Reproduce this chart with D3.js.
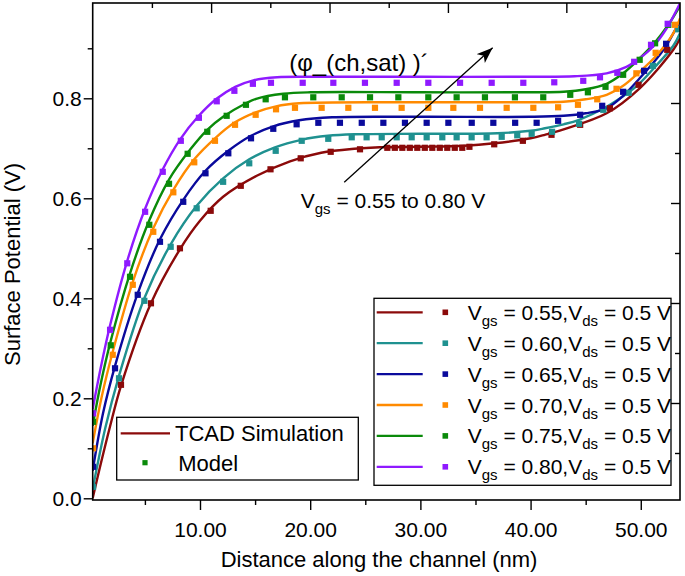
<!DOCTYPE html>
<html><head><meta charset="utf-8">
<script src="https://cdn.jsdelivr.net/npm/d3@7"></script>
<style>
body{margin:0;background:#fff}
svg{display:block}
text{font-family:"Liberation Sans",Arial,Helvetica,sans-serif;fill:#000}
</style>
</head><body>
<svg id="chart" width="685" height="576"></svg>
<script>
// ---------------- DATA ----------------
const vgsLabels = ["0.55","0.60","0.65","0.70","0.75","0.80"];
const seriesColors = ["#8b0a0a","#1f9190","#0a0a9c","#ff8a00","#0a8a0a","#8f1aff"];

const xMajorTicks = [10,20,30,40,50];
const xMinorTicks = [5,15,25,35,45];
const yMajorTicks = [0,0.2,0.4,0.6,0.8];
const yMinorTicks = [0.1,0.3,0.5,0.7,0.9];

// TCAD simulation curves [x (nm), potential (V)]
const tcad055 = [[0.26,0.0],[0.93,0.063],[1.83,0.143],[2.83,0.225],[5.55,0.39],[8.18,0.498],[10.0,0.555],[12.1,0.603],[15.15,0.645],[18.17,0.674],[21,0.691],[24,0.699],[26.3,0.702],[30,0.703],[34,0.705],[36.7,0.71],[40,0.72],[41.3,0.727],[43,0.738],[46.9,0.77],[49.9,0.82],[52.95,0.897],[53.56,0.92]];
const tcad060 = [[0.26,0.018],[1.4,0.14],[2.65,0.245],[4.95,0.40],[7.34,0.508],[9.7,0.585],[12.1,0.64],[14.47,0.678],[16.8,0.702],[19.2,0.717],[21.6,0.725],[24,0.728],[30,0.729],[37,0.73],[40,0.735],[41.3,0.74],[43,0.748],[44.4,0.757],[46.9,0.783],[48.9,0.812],[49.9,0.83],[51.1,0.858],[52.95,0.905],[53.56,0.93]];
const tcad065 = [[0.26,0.055],[1.2,0.17],[2.29,0.265],[4.35,0.41],[6.37,0.518],[8.48,0.597],[10.5,0.655],[12.57,0.695],[14.63,0.725],[16.65,0.744],[19,0.756],[22,0.762],[30,0.763],[40,0.763],[43,0.765],[45,0.77],[46.9,0.78],[48.4,0.805],[49.9,0.84],[51.4,0.878],[52.3,0.905],[53.56,0.955]];
const tcad070 = [[0.26,0.11],[1.1,0.205],[2.08,0.293],[3.9,0.433],[5.76,0.54],[7.58,0.617],[9.48,0.678],[11.36,0.72],[13.18,0.752],[15.05,0.772],[16.9,0.784],[19,0.79],[30,0.792],[40,0.792],[43,0.793],[45,0.798],[46.9,0.807],[48.4,0.825],[49.9,0.853],[51.4,0.885],[52.95,0.93],[53.56,0.96]];
const tcad075 = [[0.26,0.145],[1.0,0.23],[1.9,0.315],[3.65,0.45],[5.4,0.556],[7.2,0.638],[9.09,0.697],[10.66,0.737],[12.1,0.763],[14.17,0.79],[15.1,0.799],[17.56,0.809],[20,0.812],[30,0.812],[40,0.812],[43,0.813],[45,0.818],[46.9,0.829],[48.4,0.85],[49.9,0.88],[51.3,0.912],[52.5,0.947],[53.56,0.985]];
const tcad080 = [[0.26,0.178],[1.0,0.262],[1.83,0.345],[3.4,0.475],[5.0,0.578],[6.6,0.657],[8.2,0.718],[9.85,0.764],[11.5,0.799],[13.2,0.823],[14.84,0.836],[17,0.842],[20,0.843],[30,0.843],[40,0.843],[44,0.844],[46.9,0.85],[48.7,0.863],[49.9,0.88],[51.1,0.903],[52.35,0.94],[53.56,0.99]];

// Model points [x (nm), potential (V)]
const model055 = [[2.83,0.227],[5.55,0.39],[8.18,0.5],[10.97,0.575],[13.7,0.625],[16.4,0.658],[19.14,0.68],[21.86,0.693],[24.52,0.698],[27.0,0.701],[27.68,0.701],[28.36,0.701],[29.04,0.701],[29.72,0.701],[30.4,0.701],[31.08,0.701],[31.76,0.701],[32.44,0.701],[33.12,0.701],[33.8,0.701],[34.45,0.703],[36.7,0.708],[39.3,0.715],[41.9,0.727],[44.5,0.747],[47.2,0.78],[49.8,0.827],[52.4,0.897]];
const model060 = [[0.3,0.023],[2.65,0.24],[4.95,0.395],[7.34,0.503],[9.7,0.58],[12.1,0.633],[14.47,0.67],[16.87,0.695],[19.23,0.715],[21.64,0.719],[23.77,0.722],[25.12,0.722],[26.49,0.722],[27.85,0.722],[29.21,0.722],[30.57,0.722],[31.99,0.722],[33.29,0.722],[34.65,0.722],[36.01,0.722],[37.38,0.723],[38.79,0.726],[40.1,0.729],[41.95,0.733],[44.4,0.749],[46.6,0.777],[48.9,0.811],[51.1,0.865],[53.4,0.938]];
const model065 = [[0.3,0.063],[2.29,0.26],[4.35,0.407],[6.37,0.513],[8.48,0.593],[10.5,0.65],[12.57,0.69],[14.63,0.72],[16.65,0.739],[18.77,0.748],[20.74,0.751],[22.7,0.751],[24.68,0.751],[26.64,0.751],[28.6,0.751],[30.57,0.751],[32.54,0.751],[34.66,0.751],[36.62,0.751],[38.6,0.751],[40.55,0.751],[42.5,0.755],[44.5,0.767],[46.5,0.785],[48.4,0.813],[50.3,0.855],[52.3,0.909]];
const model070 = [[0.3,0.10],[2.08,0.287],[3.9,0.427],[5.76,0.533],[7.58,0.612],[9.48,0.672],[11.36,0.715],[13.18,0.747],[15.05,0.767],[16.9,0.778],[18.62,0.781],[21.04,0.781],[23.46,0.781],[25.88,0.781],[28.3,0.781],[30.72,0.781],[32.99,0.781],[35.41,0.781],[37.83,0.781],[40.25,0.781],[42.5,0.782],[44.3,0.787],[46.05,0.798],[47.8,0.819],[49.6,0.85],[51.35,0.891],[53.1,0.947]];
const model075 = [[0.3,0.153],[1.9,0.306],[3.65,0.443],[5.4,0.547],[7.19,0.629],[8.88,0.689],[10.66,0.733],[12.42,0.765],[14.17,0.787],[15.96,0.798],[17.71,0.802],[20.28,0.802],[22.86,0.802],[25.43,0.802],[28.0,0.802],[30.72,0.802],[33.29,0.802],[35.86,0.802],[38.58,0.802],[41.15,0.802],[43.6,0.807],[45.2,0.812],[46.8,0.823],[48.4,0.847],[49.9,0.877],[51.3,0.91],[52.5,0.947]];
const model080 = [[0.3,0.17],[1.84,0.337],[3.4,0.47],[5.02,0.573],[6.62,0.653],[8.26,0.715],[9.9,0.761],[11.52,0.794],[13.12,0.815],[14.8,0.829],[16.44,0.831],[19.32,0.831],[22.1,0.831],[24.97,0.831],[27.85,0.831],[30.72,0.831],[33.6,0.831],[36.47,0.831],[39.34,0.831],[42.15,0.832],[44.78,0.835],[46.3,0.842],[47.87,0.851],[49.4,0.873],[50.93,0.907],[52.44,0.949]];

const tcadSeries = [tcad055,tcad060,tcad065,tcad070,tcad075,tcad080];
const modelSeries = [model055,model060,model065,model070,model075,model080];

// annotations (data coordinates)
const arrowFrom = [23.09,0.632];
const arrowTo = [36.56,0.901];
const phiLabelPos = [18.1,0.855];
const vgsRangePos = [19.14,0.58];

// ---------------- CHART ----------------
const L = 92.7, T = 3, R = 680, B = 500;
const svg = d3.select("#chart");

const x = d3.scaleLinear().domain([0.263, 53.56]).range([L, R]);
const y = d3.scaleLinear().domain([-0.0034, 0.9906]).range([B, T]);
// mirror axes (top/right) in the reference use their own tick spacing
const xTop = d3.scaleLinear().domain([0, 9.92]).range([L, R]);
const yRight = d3.scaleLinear().domain([0.06, 10]).range([B, T]);

svg.append("defs").append("clipPath").attr("id","plotclip")
  .append("rect").attr("x",L).attr("y",T).attr("width",R-L).attr("height",B-T);

const plot = svg.append("g").attr("clip-path","url(#plotclip)");

const line = d3.line().x(d=>x(d[0])).y(d=>y(d[1])).curve(d3.curveCatmullRom.alpha(0.5));

tcadSeries.forEach((s,i)=>{
  plot.append("path").datum(s).attr("d",line)
    .attr("fill","none").attr("stroke",seriesColors[i]).attr("stroke-width",2.4);
});
const ms = 6.2;
modelSeries.forEach((s,i)=>{
  plot.append("g").selectAll("rect").data(s).join("rect")
    .attr("x",d=>x(d[0])-ms/2).attr("y",d=>y(d[1])-ms/2)
    .attr("width",ms).attr("height",ms).attr("fill",seriesColors[i]);
});

// axes
const fs = 21;
function styleAxis(g){ g.select(".domain").remove(); g.selectAll("line").attr("stroke","#000").attr("stroke-width",1.4); }

const gxMaj = svg.append("g").attr("transform",`translate(0,${B})`)
  .call(d3.axisBottom(x).tickValues(xMajorTicks).tickSize(10).tickFormat(d3.format(".2f")));
styleAxis(gxMaj);
gxMaj.selectAll("text").attr("y",36.7).attr("dy",0).style("font-size",fs+"px").attr("fill","#000");
const gxMin = svg.append("g").attr("transform",`translate(0,${B})`)
  .call(d3.axisBottom(x).tickValues(xMinorTicks).tickSize(5).tickFormat(""));
styleAxis(gxMin);

const gyMaj = svg.append("g").attr("transform",`translate(${L},0)`)
  .call(d3.axisLeft(y).tickValues(yMajorTicks).tickSize(9).tickPadding(2).tickFormat(d3.format(".1f")));
styleAxis(gyMaj);
gyMaj.selectAll("text").attr("dy","0.36em").style("font-size",fs+"px").attr("fill","#000");
const gyMin = svg.append("g").attr("transform",`translate(${L},0)`)
  .call(d3.axisLeft(y).tickValues(yMinorTicks).tickSize(5).tickFormat(""));
styleAxis(gyMin);

// top mirror ticks (inward)
const topMaj = svg.append("g").attr("transform",`translate(0,${T})`)
  .call(d3.axisBottom(xTop).tickValues([2,4,6,8]).tickSize(10).tickFormat(""));
styleAxis(topMaj);
const topMin = svg.append("g").attr("transform",`translate(0,${T})`)
  .call(d3.axisBottom(xTop).tickValues([1,3,5,7,9]).tickSize(5).tickFormat(""));
styleAxis(topMin);
// right mirror ticks (inward)
const rMaj = svg.append("g").attr("transform",`translate(${R},0)`)
  .call(d3.axisLeft(yRight).tickValues([2,4,6,8]).tickSize(9).tickFormat(""));
styleAxis(rMaj);
const rMin = svg.append("g").attr("transform",`translate(${R},0)`)
  .call(d3.axisLeft(yRight).tickValues([1,3,5,7,9]).tickSize(5).tickFormat(""));
styleAxis(rMin);

// frame
svg.append("rect").attr("x",L).attr("y",T).attr("width",R-L).attr("height",B-T)
  .attr("fill","none").attr("stroke","#000").attr("stroke-width",1.6);

// axis titles
svg.append("text").attr("x",379).attr("y",567).attr("text-anchor","middle")
  .style("font-size","22px").text("Distance along the channel (nm)");
svg.append("text").attr("transform","translate(20,264.5) rotate(-90)").attr("text-anchor","middle")
  .style("font-size","22px").text("Surface Potential (V)");

// annotations
const defs = svg.select("defs");
defs.append("marker").attr("id","arrowhead").attr("markerUnits","userSpaceOnUse")
  .attr("markerWidth",18).attr("markerHeight",14).attr("refX",16).attr("refY",6)
  .attr("orient","auto")
  .append("path").attr("d","M0,0 L16,6 L0,12 L4,6 Z").attr("fill","#000");
svg.append("line")
  .attr("x1",x(arrowFrom[0])).attr("y1",y(arrowFrom[1]))
  .attr("x2",x(arrowTo[0])).attr("y2",y(arrowTo[1]))
  .attr("stroke","#000").attr("stroke-width",1.3).attr("marker-end","url(#arrowhead)");

svg.append("text").attr("x",x(phiLabelPos[0])).attr("y",y(phiLabelPos[1]))
  .style("font-size","24px").text("(φ_(ch,sat) )´");

const vr = svg.append("text").attr("x",x(vgsRangePos[0])).attr("y",y(vgsRangePos[1])).style("font-size",fs+"px");
vr.append("tspan").text("V");
vr.append("tspan").attr("dy",6).style("font-size","15px").text("gs");
vr.append("tspan").attr("dy",-6).text(" = 0.55 to 0.80 V");

// legend 1 (series)
const lg1 = svg.append("g");
lg1.append("rect").attr("x",374).attr("y",298.3).attr("width",297).attr("height",187)
  .attr("fill","#fff").attr("stroke","#000").attr("stroke-width",1.3);
vgsLabels.forEach((v,i)=>{
  const cy = 312.3 + i*30.9;
  lg1.append("line").attr("x1",376.7).attr("x2",422.7).attr("y1",cy).attr("y2",cy)
    .attr("stroke",seriesColors[i]).attr("stroke-width",2.3);
  lg1.append("rect").attr("x",445.3-2.8).attr("y",cy-2.8).attr("width",5.6).attr("height",5.6)
    .attr("fill",seriesColors[i]);
  const t = lg1.append("text").attr("x",467.7).attr("y",cy+7.5).style("font-size",fs+"px");
  t.append("tspan").text("V");
  t.append("tspan").attr("dy",6).style("font-size","15px").text("gs");
  t.append("tspan").attr("dy",-6).text(" = " + v + ",V");
  t.append("tspan").attr("dy",6).style("font-size","15px").text("ds");
  t.append("tspan").attr("dy",-6).text(" = 0.5 V");
});

// legend 2 (type)
const lg2 = svg.append("g");
lg2.append("rect").attr("x",116.7).attr("y",417.3).attr("width",241.6).attr("height",62.7)
  .attr("fill","#fff").attr("stroke","#000").attr("stroke-width",1.3);
lg2.append("line").attr("x1",120.7).attr("x2",170).attr("y1",433.3).attr("y2",433.3)
  .attr("stroke",seriesColors[0]).attr("stroke-width",2.3);
lg2.append("text").attr("x",175).attr("y",441.3).style("font-size","22px").text("TCAD Simulation");
lg2.append("rect").attr("x",145-2.6).attr("y",462.7-2.6).attr("width",5.2).attr("height",5.2)
  .attr("fill",seriesColors[4]);
lg2.append("text").attr("x",178.3).attr("y",470.7).style("font-size","22px").text("Model");
</script>
</body></html>
